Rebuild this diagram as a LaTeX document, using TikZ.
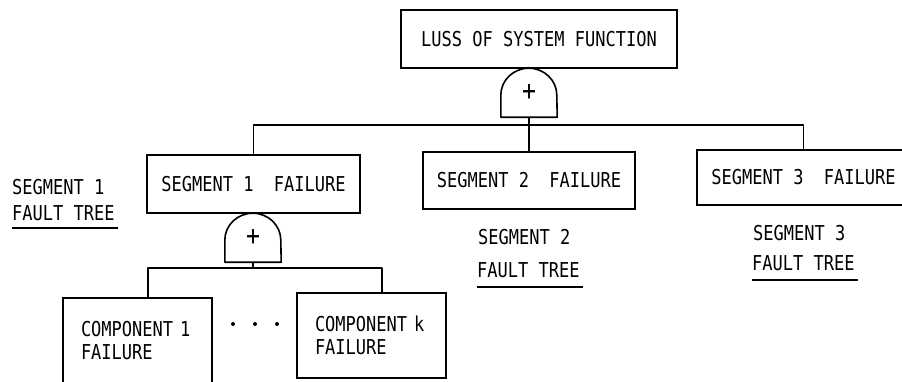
\documentclass[tikz,border=0pt]{standalone}
\usepackage{fontspec}
\newfontfamily\plotfont[FakeStretch=0.83]{DejaVu Sans Mono}
% draws an OR gate (arched top, flat bottom) over the frame of node #1
\newcommand\orgate[1]{%
  \draw[wire] (#1.south west) -- ([yshift=22pt]#1.south west)
    arc[start angle=180, end angle=0, x radius=28pt, y radius=27pt]
    -- (#1.south east) -- cycle;}
\begin{document}
\begin{tikzpicture}[x=1pt, y=-1pt,
  txt/.style={font=\plotfont\fontsize{20.5}{23}\selectfont},
  wire/.style={line width=1.6pt, line join=round},
  box/.style={draw, line width=1.6pt, inner sep=0pt, txt},
  gate/.style={minimum width=56pt, minimum height=49pt, inner sep=0pt,
    font=\plotfont\fontsize{28}{28}\selectfont},
  lbl/.style={inner sep=0pt, txt, anchor=base west},
  uline/.style={line width=1.4pt},
  dot/.style={circle, fill, inner sep=0pt, minimum size=4pt}]
\useasboundingbox (0,0) rectangle (902,381);
\fill[white] (0,0) rectangle (902,381);

% top event and first OR gate
\node[box, minimum width=276pt, minimum height=58pt] (top) at (539,39) {LUSS OF SYSTEM FUNCTION};
\node[gate] (g1) at (529,92.5) {+};
\orgate{g1}

% segment events
\node[box, minimum width=213pt, minimum height=58pt] (s1) at (253.5,184) {SEGMENT 1\ \ FAILURE};
\node[box, minimum width=212pt, minimum height=57pt] (s2) at (529,180.5) {SEGMENT 2\ \ FAILURE};
\node[box, minimum width=213pt, minimum height=55pt] (s3) at (803.5,177.5) {SEGMENT 3\ \ FAILURE};

\coordinate (bus1) at (529,125);
\draw[wire] (g1.south) -- (s2.north);
\draw[wire] (s1.north) |- (bus1) -| (s3.north);

% segment 1 gate and component events
\node[gate] (g2) at (253,237.5) {+};
\orgate{g2}
\node[box, minimum width=149pt, minimum height=85pt, text width=113pt, align=left] (c1) at (137.5,340.5) {COMPONENT 1\\FAILURE};
\node[box, minimum width=149pt, minimum height=85pt, text width=113pt, align=left] (ck) at (371.5,335.5) {COMPONENT k\\FAILURE};

\coordinate (bus2) at (253,268);
\draw[wire] (g2.south) -- (bus2);
\draw[wire] ([xshift=10.5pt]c1.north) |- (bus2) -| ([xshift=10.5pt]ck.north);

\node[dot] (d1) at (233,324) {};
\node[dot] (d2) at (255,324) {};
\node[dot] (d3) at (277,324) {};

% fault tree captions
\node[lbl] (t1a) at (12,194) {SEGMENT 1};
\node[lbl] (t1b) at (12,220) {FAULT TREE};
\draw[uline] ([yshift=-8pt]t1b.base west) -- ([yshift=-8pt,xshift=3pt]t1b.base east);

\node[lbl] (t2a) at (478,244) {SEGMENT 2};
\node[lbl] (t2b) at (477,277) {FAULT TREE};
\draw[uline] ([yshift=-10pt]t2b.base west) -- ([yshift=-10pt,xshift=3pt]t2b.base east);

\node[lbl] (t3a) at (753,240) {SEGMENT 3};
\node[lbl] (t3b) at (752,270) {FAULT TREE};
\draw[uline] ([yshift=-10pt]t3b.base west) -- ([yshift=-10pt,xshift=3pt]t3b.base east);
\end{tikzpicture}
\end{document}
